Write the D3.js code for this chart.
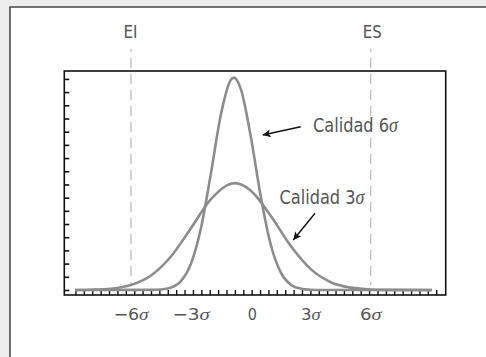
<!DOCTYPE html>
<html lang="es">
<head>
  <meta charset="utf-8">
  <title>Calidad 3 sigma vs 6 sigma</title>
  <script src="https://cdn.jsdelivr.net/npm/d3@7"></script>
  <style>
    body { margin: 0; background: #ededed; }
    svg { display: block; }
    .lbl { font-family: "Liberation Sans Narrow", "DejaVu Sans Condensed", "Roboto", sans-serif; fill: #555; }
    .sig { font-family: "Liberation Serif", "DejaVu Serif", serif; font-style: italic; }
  </style>
</head>
<body>
<script>
  // Tamaño
  const w = 486;
  const h = 357;

  // Curva calidad 6 sigma (x en sigma, altura en marcas del eje)
  const x6 = [-8.8, -5, -4.5, -4, -3.5, -3, -2.5, -2, -1.5, -1, -0.85, -0.5, 0, 0.5, 1, 1.5, 2, 2.5, 3, 3.5, 9.07];
  const y6 = [0, 0.01, 0.04, 0.18, 0.67, 1.98, 4.68, 8.84, 13.3, 15.94, 16.1, 15.23, 11.6, 7.05, 3.41, 1.32, 0.40, 0.10, 0.02, 0, 0];

  // Curva calidad 3 sigma
  const x3 = [-8.8, -8, -7, -6, -5, -4, -3, -2, -1, -0.8, 0, 1, 2, 3, 4, 5, 6, 7, 9.07];
  const y3 = [0, 0.02, 0.10, 0.38, 1.10, 2.54, 4.68, 6.88, 8.06, 8.1, 7.53, 5.61, 3.33, 1.58, 0.59, 0.18, 0.04, 0.01, 0];

  // Etiquetas del eje x
  const tickVals = [-6, -3, 0, 3, 6];
  const tickNames = ["\u22126", "\u22123", "0", "3", "6"];

  // Límites de especificación
  const limites = [-6, 6];
  const limNames = ["EI", "ES"];

  const svg = d3.select("body")
    .append("svg")
    .attr("width", w)
    .attr("height", h);

  // comprimir un texto en horizontal hasta el ancho pedido
  function estrechar(sel, px, py, ancho) {
    sel.each(function (d, i) {
      const t = d3.select(this);
      const bw = this.getBBox().width;
      const a = typeof ancho === "function" ? ancho(d, i) : ancho;
      const k = (a && bw > 0) ? a / bw : 1;
      const xx = typeof px === "function" ? px(d, i) : px;
      const yy = typeof py === "function" ? py(d, i) : py;
      t.attr("transform", `translate(${xx},${yy}) scale(${k},1)`);
    });
  }

  // Panel blanco
  svg.append("rect")
    .attr("x", 10).attr("y", 7)
    .attr("width", 500).attr("height", 400)
    .attr("fill", "#fff")
    .attr("stroke", "#444")
    .attr("stroke-width", 1.5);

  const mLeft = 64.3, mRight = 445.7, mTop = 71, mBottom = 295;

  const x = d3.scaleLinear().domain([-9.34, 9.755]).range([mLeft, mRight]);
  const y = d3.scaleLinear().domain([-0.38, 16.6]).range([mBottom, mTop]);

  // Marcas del eje y (hacia dentro)
  svg.append("g")
    .attr("transform", `translate(${mLeft},0)`)
    .call(d3.axisLeft(y).tickValues(d3.range(0, 17)).tickSize(-5).tickFormat(""))
    .call(g => g.select(".domain").remove())
    .selectAll("line").attr("stroke", "#111").attr("stroke-width", 1.6);

  // Marcas del eje x
  svg.append("g")
    .attr("transform", `translate(0,${mBottom})`)
    .call(d3.axisBottom(x).tickValues(d3.range(-8.78, 9.3, 0.42)).tickSize(-5).tickFormat(""))
    .call(g => g.select(".domain").remove())
    .selectAll("line").attr("stroke", "#111").attr("stroke-width", 1.4);

  // Líneas de límites
  svg.selectAll(".lim")
    .data(limites)
    .enter()
    .append("line")
    .attr("x1", d => x(d)).attr("x2", d => x(d))
    .attr("y1", 49).attr("y2", y(0))
    .attr("stroke", "#c2c2c2")
    .attr("stroke-width", 1.4)
    .attr("stroke-dasharray", "3,6,10,6,10,6,10,6,10,6,10,6,10,6,10,6,10,6,10,6,10,6,10,6,10,6,10,6,10,6");

  svg.selectAll(".limtxt")
    .data(limNames)
    .enter()
    .append("text")
    .attr("class", "lbl")
    .attr("text-anchor", "middle")
    .attr("font-size", 18.5)
    .text(d => d)
    .call(estrechar, (d, i) => x(limites[i]) + (i === 1 ? 1.5 : -0.5), 38, (d, i) => i === 0 ? 14 : 19);

  // Curvas
  const line = d3.line()
    .x(d => x(d[0]))
    .y(d => y(d[1]))
    .curve(d3.curveMonotoneX);

  svg.append("path")
    .datum(d3.zip(x3, y3))
    .attr("d", line)
    .attr("fill", "none")
    .attr("stroke", "#8c8c8c")
    .attr("stroke-width", 2.6);

  svg.append("path")
    .datum(d3.zip(x6, y6))
    .attr("d", line)
    .attr("fill", "none")
    .attr("stroke", "#8c8c8c")
    .attr("stroke-width", 2.6);

  // Marco del gráfico
  svg.append("rect")
    .attr("x", mLeft).attr("y", mTop)
    .attr("width", mRight - mLeft).attr("height", mBottom - mTop)
    .attr("fill", "none")
    .attr("stroke", "#111")
    .attr("stroke-width", 1.6);

  // Etiquetas x
  const anchos = [36.5, 39, null, 21, 23];
  const xl = svg.selectAll(".xl")
    .data(tickVals)
    .enter()
    .append("text")
    .attr("class", "lbl")
    .attr("text-anchor", "middle")
    .attr("font-size", 16);
  xl.append("tspan").text((d, i) => tickNames[i]);
  xl.filter(d => d !== 0).append("tspan").attr("class", "sig").text("\u03c3");
  xl.call(estrechar, d => x(d) + (d === 0 ? 1.5 : 0), 320, (d, i) => anchos[i]);

  // Flechas
  svg.append("defs").append("marker")
    .attr("id", "punta")
    .attr("viewBox", "0 0 10 10")
    .attr("refX", 10).attr("refY", 5)
    .attr("markerUnits", "userSpaceOnUse")
    .attr("markerWidth", 10).attr("markerHeight", 8)
    .attr("orient", "auto")
    .append("path")
    .attr("d", "M0,0 L10,5 L0,10 L2.5,5 z")
    .attr("fill", "#111");

  const flechas = [
    [300.7, 126.7, 262.7, 135],
    [315, 213.3, 293.3, 240]
  ];
  svg.selectAll(".flecha")
    .data(flechas)
    .enter()
    .append("line")
    .attr("x1", d => d[0]).attr("y1", d => d[1])
    .attr("x2", d => d[2]).attr("y2", d => d[3])
    .attr("stroke", "#111")
    .attr("stroke-width", 1.4)
    .attr("marker-end", "url(#punta)");

  // Anotaciones
  const notas = [["Calidad 6", 313, 132], ["Calidad 3", 279.5, 204]];
  const nt = svg.selectAll(".nota")
    .data(notas)
    .enter()
    .append("text")
    .attr("class", "lbl")
    .attr("font-size", 20);
  nt.append("tspan").text(d => d[0]);
  nt.append("tspan").attr("class", "sig").text("\u03c3");
  nt.call(estrechar, d => d[1], d => d[2], 86);
</script>
</body>
</html>
